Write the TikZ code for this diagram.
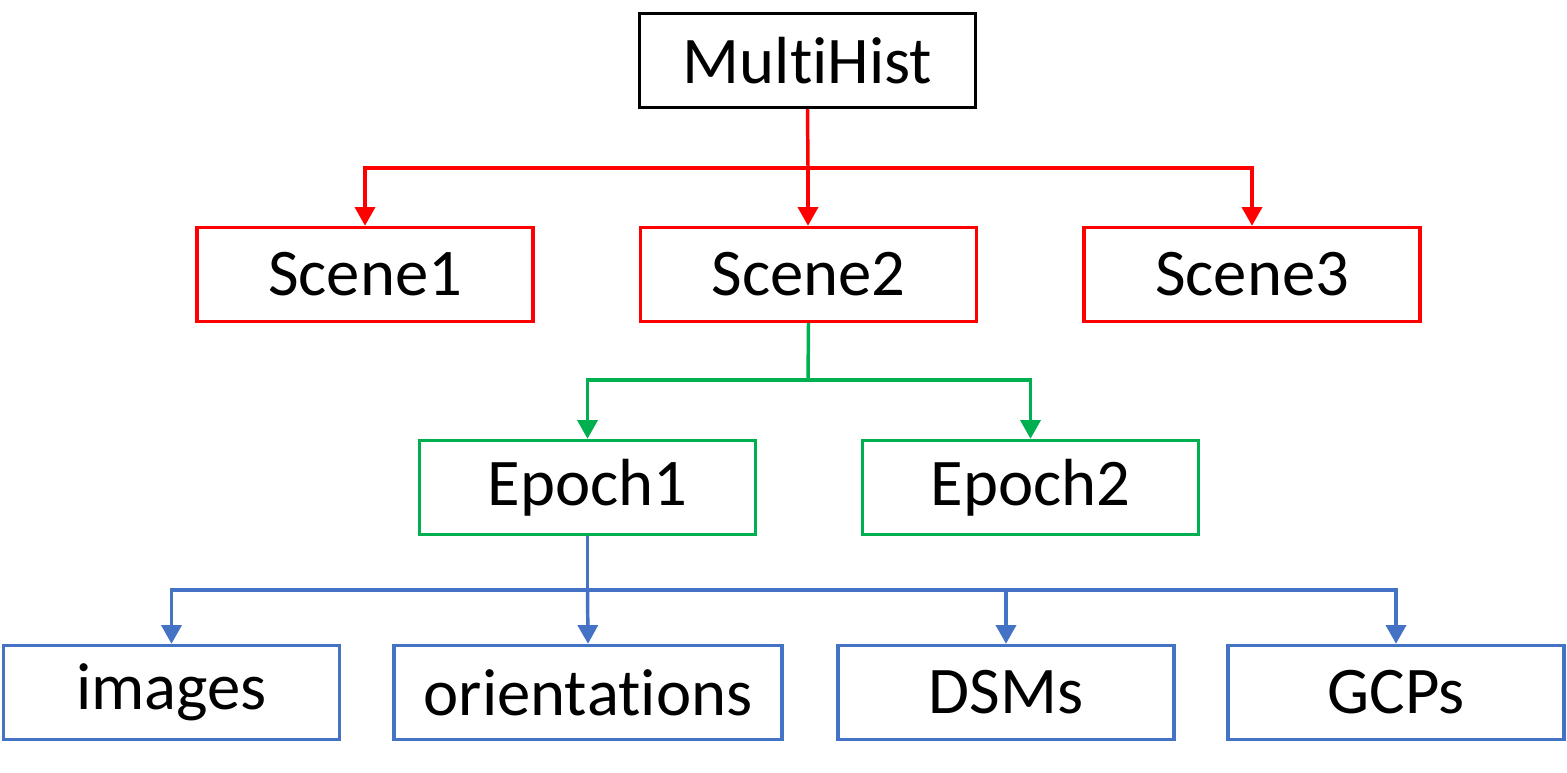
\documentclass[tikz,border=0pt]{standalone}
\usepackage{fontspec}
\setmainfont{Carlito}[RawFeature={-liga;-clig;-calt;-dlig;-rlig}]
\usetikzlibrary{arrows.meta}
\definecolor{cred}{HTML}{FF0000}
\definecolor{cgreen}{HTML}{00B050}
\definecolor{cblue}{HTML}{4472C4}
\newcommand{\nolig}{\kern0pt }
\tikzset{
  box/.style={draw, line width=2.6pt, minimum width=252pt, minimum height=70.5pt, inner sep=0pt, font=\fontsize{50}{60}\selectfont, text=black},
  conn/.style={line width=2.6pt},
  arr/.style={conn, -{Triangle[width=15pt,length=14pt]}}
}
\begin{document}
\begin{tikzpicture}[x=0.75pt,y=-0.75pt]
\useasboundingbox (0,0) rectangle (1567,773);
\node[box, draw=black] (mh) at (807.5,60.5) {Mult\nolig iHist};
\node[box, draw=cred] (s1) at (365,274.5) {Scene1};
\node[box, draw=cred] (s2) at (808.5,274.5) {Scene2};
\node[box, draw=cred] (s3) at (1252,274.5) {Scene3};
\node[box, draw=cgreen] (e1) at (587.5,487.5) {Epoch1};
\node[box, draw=cgreen] (e2) at (1030.5,487.5) {Epoch2};
\node[box, draw=cblue] (im) at (171.5,692.5) {images};
\node[box, draw=cblue, minimum width=291pt] (or) at (588,692.5) {orient\nolig at\nolig ions};
\node[box, draw=cblue] (ds) at (1006,692.5) {DSMs};
\node[box, draw=cblue] (gc) at (1396,692.5) {GCPs};
% red
\coordinate (rj) at (808,168);
\draw[conn, cred] (mh.south) -- (rj);
\draw[arr, cred] (rj) -| (s1.north);
\draw[arr, cred] (rj) -- (rj |- s2.north);
\draw[arr, cred] (rj) -| (s3.north);
% green
\coordinate (gj) at (808,380);
\draw[conn, cgreen] (s2.south) -- (gj);
\draw[arr, cgreen] (gj) -| (e1.north);
\draw[arr, cgreen] (gj) -| (e2.north);
% blue
\coordinate (bj) at (587.5,590);
\draw[conn, cblue] (e1.south) -- (bj);
\draw[arr, cblue] (bj) -| (im.north);
\draw[arr, cblue] (bj) -- (or.north);
\draw[arr, cblue] (bj) -| (ds.north);
\draw[arr, cblue] (bj) -| (gc.north);
\end{tikzpicture}
\end{document}
